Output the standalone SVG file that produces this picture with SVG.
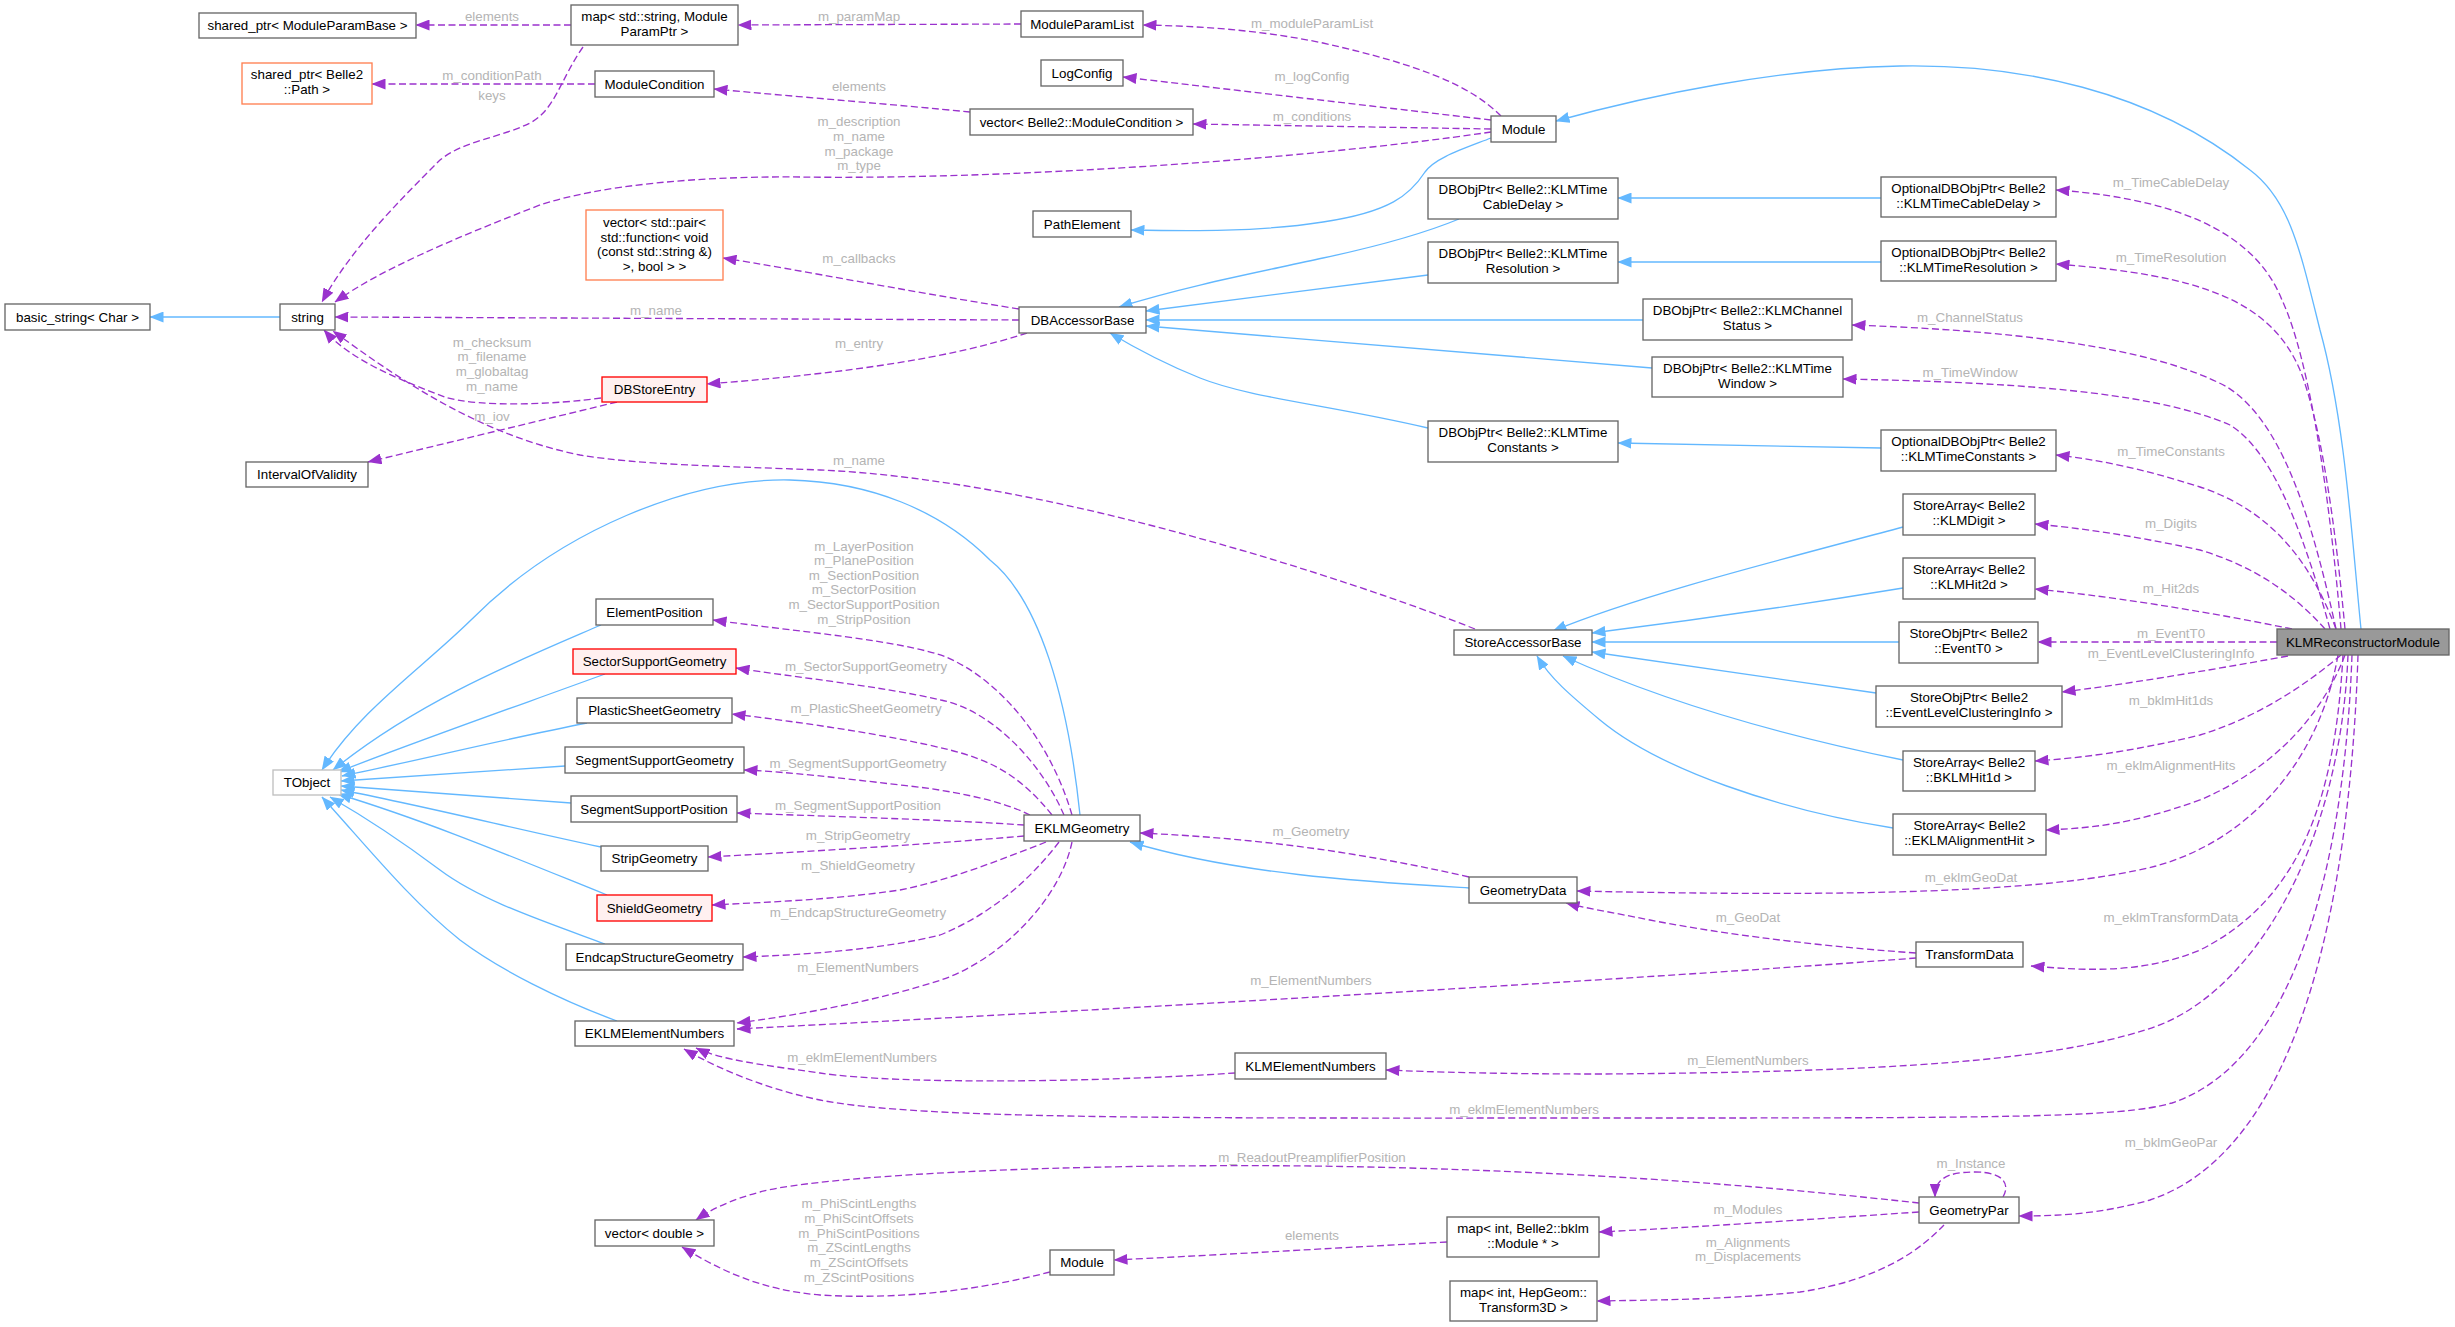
<svg xmlns="http://www.w3.org/2000/svg" width="2455" height="1327" viewBox="0 0 2455 1327">
<defs>
<style>
text{font-family:"Liberation Sans",Arial,sans-serif;font-size:13.33px}
.node rect{fill:#ffffff;stroke:#666666;stroke-width:1.33}
.node text{fill:#000000;text-anchor:middle}
.node.red rect{fill:#fff0f0;stroke:#ff0000}
.node.orange rect{fill:#ffffff;stroke:#ff7f50}
.node.grayb rect{stroke:#bfbfbf}
.node.main rect{fill:#999999;stroke:#666666}
.inh{fill:none;stroke:#63b8ff;stroke-width:1.33;marker-end:url(#ab)}
.use{fill:none;stroke:#9a32cd;stroke-width:1.33;stroke-dasharray:7,3.5;marker-end:url(#ap)}
.lbl{fill:#b4b4b4;text-anchor:middle}
</style>
<marker id="ab" viewBox="0 0 14 11" refX="13.5" refY="5.5" markerWidth="14" markerHeight="11" orient="auto" markerUnits="userSpaceOnUse"><path d="M0,0 L14,5.5 L0,11 z" fill="#63b8ff" stroke="none"/></marker>
<marker id="ap" viewBox="0 0 14 11" refX="13.5" refY="5.5" markerWidth="14" markerHeight="11" orient="auto" markerUnits="userSpaceOnUse"><path d="M0,0 L14,5.5 L0,11 z" fill="#9a32cd" stroke="none"/></marker>
</defs>
<rect width="2455" height="1327" fill="#ffffff"/>

<g id="connectors">
<!-- inheritance -->
<path class="inh" d="M280,317 L150,317"/>
<path class="inh" d="M2361,629 C2352,540 2345,420 2320,330 C2300,250 2290,200 2250,170 C2150,90 2020,64 1900,66 C1780,68 1650,95 1556,121"/>
<path class="inh" d="M1491,138 C1460,150 1435,158 1425,172 C1410,195 1390,212 1323,222 C1260,232 1190,231 1131,230"/>
<path class="inh" d="M1459,219 C1420,235 1370,248 1323,258 C1260,272 1190,285 1119,307"/>
<path class="inh" d="M1428,275 L1146,311"/>
<path class="inh" d="M1643,320 L1146,320"/>
<path class="inh" d="M1652,368 L1146,326"/>
<path class="inh" d="M1428,428 C1330,405 1250,398 1200,378 C1160,362 1130,345 1110,333"/>
<path class="inh" d="M1881,198 L1618,198"/>
<path class="inh" d="M1881,262 L1618,262"/>
<path class="inh" d="M1881,448 L1618,443"/>
<path class="inh" d="M1903,527 C1780,560 1640,595 1553,631"/>
<path class="inh" d="M1903,588 C1800,605 1680,622 1592,633"/>
<path class="inh" d="M1899,642 L1592,642"/>
<path class="inh" d="M1876,693 L1592,652"/>
<path class="inh" d="M1903,760 C1780,735 1660,700 1563,656"/>
<path class="inh" d="M1893,828 C1780,810 1660,770 1600,720 C1570,695 1550,678 1537,656"/>
<path class="inh" d="M1080,815 C1068,700 1040,600 990,560 C940,510 870,482 790,480 C690,478 560,530 471,620 C420,670 360,710 322,770"/>
<path class="inh" d="M601,625 C520,660 420,700 333,770"/>
<path class="inh" d="M605,674 C520,705 420,740 338,772"/>
<path class="inh" d="M587,723 C500,740 420,760 342,776"/>
<path class="inh" d="M565,766 L341,781"/>
<path class="inh" d="M571,803 L341,786"/>
<path class="inh" d="M601,847 C520,830 420,805 341,790"/>
<path class="inh" d="M607,895 C520,860 430,822 338,794"/>
<path class="inh" d="M605,944 C540,920 480,900 440,870 C400,840 370,820 330,797"/>
<path class="inh" d="M617,1021 C560,1000 500,970 460,940 C410,900 370,850 322,797"/>
<path class="inh" d="M1469,888 C1370,882 1240,875 1130,842"/>

<!-- usage -->
<path class="use" d="M571,25 L416,25"/>
<text class="lbl" x="492" y="21">elements</text>
<path class="use" d="M1021,24 L738,25"/>
<text class="lbl" x="859" y="21">m_paramMap</text>
<path class="use" d="M583,47 C560,80 555,110 530,123 C500,138 465,140 440,160 C400,200 350,250 322,302"/>
<text class="lbl" x="492" y="100">keys</text>
<path class="use" d="M595,84 L372,84"/>
<text class="lbl" x="492" y="80">m_conditionPath</text>
<path class="use" d="M970,112 C900,105 800,97 714,89"/>
<text class="lbl" x="859" y="91">elements</text>
<path class="use" d="M1501,116 C1470,85 1420,65 1323,43 C1260,30 1200,26 1143,25"/>
<text class="lbl" x="1312" y="28">m_moduleParamList</text>
<path class="use" d="M1491,120 L1123,77"/>
<text class="lbl" x="1312" y="81">m_logConfig</text>
<path class="use" d="M1491,129 L1193,124"/>
<text class="lbl" x="1312" y="121">m_conditions</text>
<path class="use" d="M1491,132 C1300,160 1000,180 800,177 C700,176 600,185 540,205 C450,240 380,270 335,302"/>
<text class="lbl" x="859" y="126">m_description</text>
<text class="lbl" x="859" y="141">m_name</text>
<text class="lbl" x="859" y="156">m_package</text>
<text class="lbl" x="859" y="170">m_type</text>
<path class="use" d="M1019,309 C900,290 800,270 723,258"/>
<text class="lbl" x="859" y="263">m_callbacks</text>
<path class="use" d="M1019,320 L335,317"/>
<text class="lbl" x="656" y="315">m_name</text>
<path class="use" d="M1027,333 C950,358 850,373 707,384"/>
<text class="lbl" x="859" y="348">m_entry</text>
<path class="use" d="M601,398 C560,404 480,408 445,397 C400,380 350,360 324,330"/>
<text class="lbl" x="492" y="347">m_checksum</text>
<text class="lbl" x="492" y="361">m_filename</text>
<text class="lbl" x="492" y="376">m_globaltag</text>
<text class="lbl" x="492" y="391">m_name</text>
<path class="use" d="M617,402 L368,462"/>
<text class="lbl" x="492" y="421">m_iov</text>
<path class="use" d="M1475,629 C1350,580 1050,480 820,470 C720,466 640,465 580,455 C480,435 400,380 333,331"/>
<text class="lbl" x="859" y="465">m_name</text>

<path class="use" d="M1072,815 C1050,740 1000,680 946,657 C900,640 800,632 713,620"/>
<text class="lbl" x="864" y="551">m_LayerPosition</text>
<text class="lbl" x="864" y="565">m_PlanePosition</text>
<text class="lbl" x="864" y="580">m_SectionPosition</text>
<text class="lbl" x="864" y="594">m_SectorPosition</text>
<text class="lbl" x="864" y="609">m_SectorSupportPosition</text>
<text class="lbl" x="864" y="624">m_StripPosition</text>
<path class="use" d="M1064,815 C1040,760 990,710 941,700 C880,686 800,678 736,668"/>
<text class="lbl" x="866" y="671">m_SectorSupportGeometry</text>
<path class="use" d="M1052,815 C1020,775 990,760 950,750 C890,735 800,722 732,714"/>
<text class="lbl" x="866" y="713">m_PlasticSheetGeometry</text>
<path class="use" d="M1030,815 C1000,800 950,790 900,785 C840,778 790,772 744,770"/>
<text class="lbl" x="858" y="768">m_SegmentSupportGeometry</text>
<path class="use" d="M1024,825 C950,820 850,817 737,813"/>
<text class="lbl" x="858" y="810">m_SegmentSupportPosition</text>
<path class="use" d="M1024,836 C920,845 800,852 708,857"/>
<text class="lbl" x="858" y="840">m_StripGeometry</text>
<path class="use" d="M1046,842 C1000,860 950,880 900,890 C830,900 770,902 712,905"/>
<text class="lbl" x="858" y="870">m_ShieldGeometry</text>
<path class="use" d="M1059,842 C1030,880 990,915 940,935 C880,950 800,955 743,957"/>
<text class="lbl" x="858" y="917">m_EndcapStructureGeometry</text>
<path class="use" d="M1072,842 C1060,900 1000,960 941,980 C880,1000 800,1015 737,1023"/>
<text class="lbl" x="858" y="972">m_ElementNumbers</text>
<path class="use" d="M1469,877 C1350,850 1250,838 1140,833"/>
<text class="lbl" x="1311" y="836">m_Geometry</text>
<path class="use" d="M1916,953 C1800,945 1700,930 1650,920 C1610,912 1585,908 1566,903"/>
<text class="lbl" x="1748" y="922">m_GeoDat</text>
<path class="use" d="M1916,958 C1700,975 1200,1005 737,1029"/>
<text class="lbl" x="1311" y="985">m_ElementNumbers</text>
<path class="use" d="M1235,1073 C1100,1082 900,1085 820,1073 C770,1066 720,1060 696,1048"/>
<text class="lbl" x="862" y="1062">m_eklmElementNumbers</text>
<path class="use" d="M2352,655 C2345,850 2300,1060 2172,1103 C2120,1118 2000,1118 1600,1118 C1200,1118 920,1120 820,1100 C770,1090 720,1070 684,1049"/>
<text class="lbl" x="1524" y="1114">m_eklmElementNumbers</text>
<path class="use" d="M2348,655 C2340,850 2250,1000 2145,1030 C2050,1060 1900,1072 1600,1074 C1500,1074 1430,1072 1386,1070"/>
<text class="lbl" x="1748" y="1065">m_ElementNumbers</text>
<path class="use" d="M2338,655 C2320,760 2250,840 2156,866 C2050,893 1850,897 1577,891"/>
<text class="lbl" x="1971" y="882">m_eklmGeoDat</text>
<path class="use" d="M2343,655 C2335,800 2300,900 2200,950 C2140,975 2080,970 2031,966"/>
<text class="lbl" x="2171" y="922">m_eklmTransformData</text>
<path class="use" d="M2358,655 C2350,900 2300,1150 2150,1200 C2100,1214 2060,1216 2019,1216"/>
<text class="lbl" x="2171" y="1147">m_bklmGeoPar</text>
<path class="use" d="M2003,1197 C2010,1185 2005,1172 1975,1172 C1945,1172 1935,1180 1935,1197"/>
<text class="lbl" x="1971" y="1168">m_Instance</text>
<path class="use" d="M1919,1203 C1800,1190 1600,1170 1312,1166 C1000,1163 800,1180 760,1192 C730,1200 710,1210 696,1220"/>
<text class="lbl" x="1312" y="1162">m_ReadoutPreamplifierPosition</text>
<path class="use" d="M1919,1212 C1800,1220 1700,1227 1599,1232"/>
<text class="lbl" x="1748" y="1214">m_Modules</text>
<path class="use" d="M1944,1225 C1920,1250 1880,1280 1800,1292 C1720,1300 1650,1300 1597,1301"/>
<text class="lbl" x="1748" y="1247">m_Alignments</text>
<text class="lbl" x="1748" y="1261">m_Displacements</text>
<path class="use" d="M1447,1242 C1300,1250 1200,1256 1114,1260"/>
<text class="lbl" x="1312" y="1240">elements</text>
<path class="use" d="M1050,1272 C980,1290 900,1300 820,1295 C760,1290 720,1270 682,1247"/>
<text class="lbl" x="859" y="1208">m_PhiScintLengths</text>
<text class="lbl" x="859" y="1223">m_PhiScintOffsets</text>
<text class="lbl" x="859" y="1238">m_PhiScintPositions</text>
<text class="lbl" x="859" y="1252">m_ZScintLengths</text>
<text class="lbl" x="859" y="1267">m_ZScintOffsets</text>
<text class="lbl" x="859" y="1282">m_ZScintPositions</text>

<path class="use" d="M2341,629 C2330,500 2310,360 2282,300 C2260,245 2200,200 2056,190"/>
<text class="lbl" x="2171" y="187">m_TimeCableDelay</text>
<path class="use" d="M2345,629 C2335,520 2320,420 2300,370 C2270,300 2200,275 2056,264"/>
<text class="lbl" x="2171" y="262">m_TimeResolution</text>
<path class="use" d="M2336,629 C2310,510 2280,420 2227,387 C2150,345 2000,330 1852,325"/>
<text class="lbl" x="1970" y="322">m_ChannelStatus</text>
<path class="use" d="M2330,629 C2300,520 2270,450 2230,425 C2150,390 2000,382 1843,379"/>
<text class="lbl" x="1970" y="377">m_TimeWindow</text>
<path class="use" d="M2336,629 C2310,560 2270,510 2200,487 C2140,468 2100,460 2056,455"/>
<text class="lbl" x="2171" y="456">m_TimeConstants</text>
<path class="use" d="M2325,629 C2290,590 2250,565 2200,550 C2130,535 2080,528 2035,524"/>
<text class="lbl" x="2171" y="528">m_Digits</text>
<path class="use" d="M2292,629 C2200,610 2100,595 2035,589"/>
<text class="lbl" x="2171" y="593">m_Hit2ds</text>
<path class="use" d="M2277,642 L2038,642"/>
<text class="lbl" x="2171" y="638">m_EventT0</text>
<path class="use" d="M2288,656 C2200,672 2120,685 2062,692"/>
<text class="lbl" x="2171" y="658">m_EventLevelClusteringInfo</text>
<path class="use" d="M2341,655 C2300,690 2250,720 2200,735 C2130,752 2080,758 2035,761"/>
<text class="lbl" x="2171" y="705">m_bklmHit1ds</text>
<path class="use" d="M2345,655 C2320,720 2270,770 2200,800 C2130,825 2090,828 2046,830"/>
<text class="lbl" x="2171" y="770">m_eklmAlignmentHits</text>
</g>

<g id="n_shared_mpb" class="node"><rect x="199" y="13" width="217" height="25"/><text x="307.5" y="30">shared_ptr&lt; ModuleParamBase &gt;</text></g>
<g id="n_map_str" class="node"><rect x="571" y="5" width="167" height="40"/><text x="654.5" y="21">map&lt; std::string, Module</text><text x="654.5" y="36">ParamPtr &gt;</text></g>
<g id="n_shared_path" class="node orange"><rect x="242" y="63" width="130" height="41"/><text x="307" y="79">shared_ptr&lt; Belle2</text><text x="307" y="94">::Path &gt;</text></g>
<g id="n_modcond" class="node"><rect x="595" y="71" width="119" height="26"/><text x="654.5" y="88.5">ModuleCondition</text></g>
<g id="n_vec_pair" class="node orange"><rect x="586" y="210" width="137" height="70"/><text x="654.5" y="226.5">vector&lt; std::pair&lt;</text><text x="654.5" y="241.5">std::function&lt; void</text><text x="654.5" y="256">(const std::string &amp;)</text><text x="654.5" y="271">&gt;, bool &gt; &gt;</text></g>
<g id="n_basic_string" class="node"><rect x="5" y="304" width="145" height="26"/><text x="77.5" y="321.5">basic_string&lt; Char &gt;</text></g>
<g id="n_string" class="node"><rect x="280" y="304" width="55" height="26"/><text x="307.5" y="321.5">string</text></g>
<g id="n_dbstoreentry" class="node red"><rect x="602" y="377" width="105" height="25"/><text x="654.5" y="394">DBStoreEntry</text></g>
<g id="n_iov" class="node"><rect x="246" y="462" width="122" height="25"/><text x="307" y="479">IntervalOfValidity</text></g>
<g id="n_modparamlist" class="node"><rect x="1021" y="11" width="122" height="26"/><text x="1082" y="28.5">ModuleParamList</text></g>
<g id="n_logconfig" class="node"><rect x="1041" y="60" width="82" height="26"/><text x="1082" y="77.5">LogConfig</text></g>
<g id="n_vec_modcond" class="node"><rect x="970" y="109" width="223" height="26"/><text x="1081.5" y="126.5">vector&lt; Belle2::ModuleCondition &gt;</text></g>
<g id="n_module" class="node"><rect x="1491" y="116" width="65" height="26"/><text x="1523.5" y="133.5">Module</text></g>
<g id="n_pathelement" class="node"><rect x="1033" y="211" width="98" height="26"/><text x="1082" y="228.5">PathElement</text></g>
<g id="n_dbo_cable" class="node"><rect x="1428" y="178" width="190" height="41"/><text x="1523" y="194">DBObjPtr&lt; Belle2::KLMTime</text><text x="1523" y="209">CableDelay &gt;</text></g>
<g id="n_dbo_res" class="node"><rect x="1428" y="242" width="190" height="41"/><text x="1523" y="258">DBObjPtr&lt; Belle2::KLMTime</text><text x="1523" y="273">Resolution &gt;</text></g>
<g id="n_dbaccessor" class="node"><rect x="1019" y="307" width="127" height="26"/><text x="1082.5" y="324.5">DBAccessorBase</text></g>
<g id="n_dbo_const" class="node"><rect x="1428" y="421" width="190" height="41"/><text x="1523" y="437">DBObjPtr&lt; Belle2::KLMTime</text><text x="1523" y="452">Constants &gt;</text></g>
<g id="n_opt_cable" class="node"><rect x="1881" y="177" width="175" height="40"/><text x="1968.5" y="193">OptionalDBObjPtr&lt; Belle2</text><text x="1968.5" y="208">::KLMTimeCableDelay &gt;</text></g>
<g id="n_opt_res" class="node"><rect x="1881" y="241" width="175" height="40"/><text x="1968.5" y="257">OptionalDBObjPtr&lt; Belle2</text><text x="1968.5" y="272">::KLMTimeResolution &gt;</text></g>
<g id="n_dbo_chan" class="node"><rect x="1643" y="299" width="209" height="41"/><text x="1747.5" y="315">DBObjPtr&lt; Belle2::KLMChannel</text><text x="1747.5" y="330">Status &gt;</text></g>
<g id="n_dbo_win" class="node"><rect x="1652" y="357" width="191" height="40"/><text x="1747.5" y="373">DBObjPtr&lt; Belle2::KLMTime</text><text x="1747.5" y="388">Window &gt;</text></g>
<g id="n_opt_const" class="node"><rect x="1881" y="430" width="175" height="41"/><text x="1968.5" y="446">OptionalDBObjPtr&lt; Belle2</text><text x="1968.5" y="461">::KLMTimeConstants &gt;</text></g>
<g id="n_sa_digit" class="node"><rect x="1903" y="494" width="132" height="41"/><text x="1969" y="510">StoreArray&lt; Belle2</text><text x="1969" y="525">::KLMDigit &gt;</text></g>
<g id="n_sa_hit2d" class="node"><rect x="1903" y="558" width="132" height="41"/><text x="1969" y="574">StoreArray&lt; Belle2</text><text x="1969" y="589">::KLMHit2d &gt;</text></g>
<g id="n_so_t0" class="node"><rect x="1899" y="622" width="139" height="41"/><text x="1968.5" y="638">StoreObjPtr&lt; Belle2</text><text x="1968.5" y="653">::EventT0 &gt;</text></g>
<g id="n_so_elci" class="node"><rect x="1876" y="686" width="186" height="41"/><text x="1969" y="702">StoreObjPtr&lt; Belle2</text><text x="1969" y="717">::EventLevelClusteringInfo &gt;</text></g>
<g id="n_sa_bklm" class="node"><rect x="1903" y="751" width="132" height="40"/><text x="1969" y="767">StoreArray&lt; Belle2</text><text x="1969" y="782">::BKLMHit1d &gt;</text></g>
<g id="n_sa_eklmah" class="node"><rect x="1893" y="814" width="153" height="41"/><text x="1969.5" y="830">StoreArray&lt; Belle2</text><text x="1969.5" y="845">::EKLMAlignmentHit &gt;</text></g>
<g id="n_klmrec" class="node main"><rect x="2277" y="629" width="172" height="26"/><text x="2363" y="646.5">KLMReconstructorModule</text></g>
<g id="n_storeaccessor" class="node"><rect x="1454" y="630" width="138" height="25"/><text x="1523" y="647">StoreAccessorBase</text></g>
<g id="n_elementposition" class="node"><rect x="596" y="599" width="117" height="26"/><text x="654.5" y="616.5">ElementPosition</text></g>
<g id="n_sectorsupport" class="node red"><rect x="573" y="649" width="163" height="25"/><text x="654.5" y="666">SectorSupportGeometry</text></g>
<g id="n_plastic" class="node"><rect x="577" y="698" width="155" height="25"/><text x="654.5" y="715">PlasticSheetGeometry</text></g>
<g id="n_segsupgeom" class="node"><rect x="565" y="747" width="179" height="26"/><text x="654.5" y="764.5">SegmentSupportGeometry</text></g>
<g id="n_segsuppos" class="node"><rect x="571" y="796" width="166" height="26"/><text x="654" y="813.5">SegmentSupportPosition</text></g>
<g id="n_strip" class="node"><rect x="601" y="846" width="107" height="25"/><text x="654.5" y="863">StripGeometry</text></g>
<g id="n_tobject" class="node grayb"><rect x="273" y="770" width="68" height="25"/><text x="307" y="787">TObject</text></g>
<g id="n_eklmgeom" class="node"><rect x="1024" y="815" width="116" height="26"/><text x="1082" y="832.5">EKLMGeometry</text></g>
<g id="n_shield" class="node red"><rect x="597" y="895" width="115" height="26"/><text x="654.5" y="912.5">ShieldGeometry</text></g>
<g id="n_endcap" class="node"><rect x="566" y="944" width="177" height="26"/><text x="654.5" y="961.5">EndcapStructureGeometry</text></g>
<g id="n_eklmelnum" class="node"><rect x="575" y="1021" width="159" height="25"/><text x="654.5" y="1038">EKLMElementNumbers</text></g>
<g id="n_vecdouble" class="node"><rect x="595" y="1220" width="119" height="26"/><text x="654.5" y="1237.5">vector&lt; double &gt;</text></g>
<g id="n_geometrydata" class="node"><rect x="1469" y="877" width="108" height="26"/><text x="1523" y="894.5">GeometryData</text></g>
<g id="n_klmelnum" class="node"><rect x="1235" y="1053" width="151" height="26"/><text x="1310.5" y="1070.5">KLMElementNumbers</text></g>
<g id="n_module2" class="node"><rect x="1050" y="1250" width="64" height="25"/><text x="1082" y="1267">Module</text></g>
<g id="n_map_bklm" class="node"><rect x="1447" y="1217" width="152" height="40"/><text x="1523" y="1233">map&lt; int, Belle2::bklm</text><text x="1523" y="1248">::Module * &gt;</text></g>
<g id="n_map_hep" class="node"><rect x="1450" y="1281" width="147" height="40"/><text x="1523.5" y="1297">map&lt; int, HepGeom::</text><text x="1523.5" y="1312">Transform3D &gt;</text></g>
<g id="n_transformdata" class="node"><rect x="1916" y="942" width="107" height="25"/><text x="1969.5" y="959">TransformData</text></g>
<g id="n_geometrypar" class="node"><rect x="1919" y="1197" width="100" height="26"/><text x="1969" y="1214.5">GeometryPar</text></g>
</svg>
